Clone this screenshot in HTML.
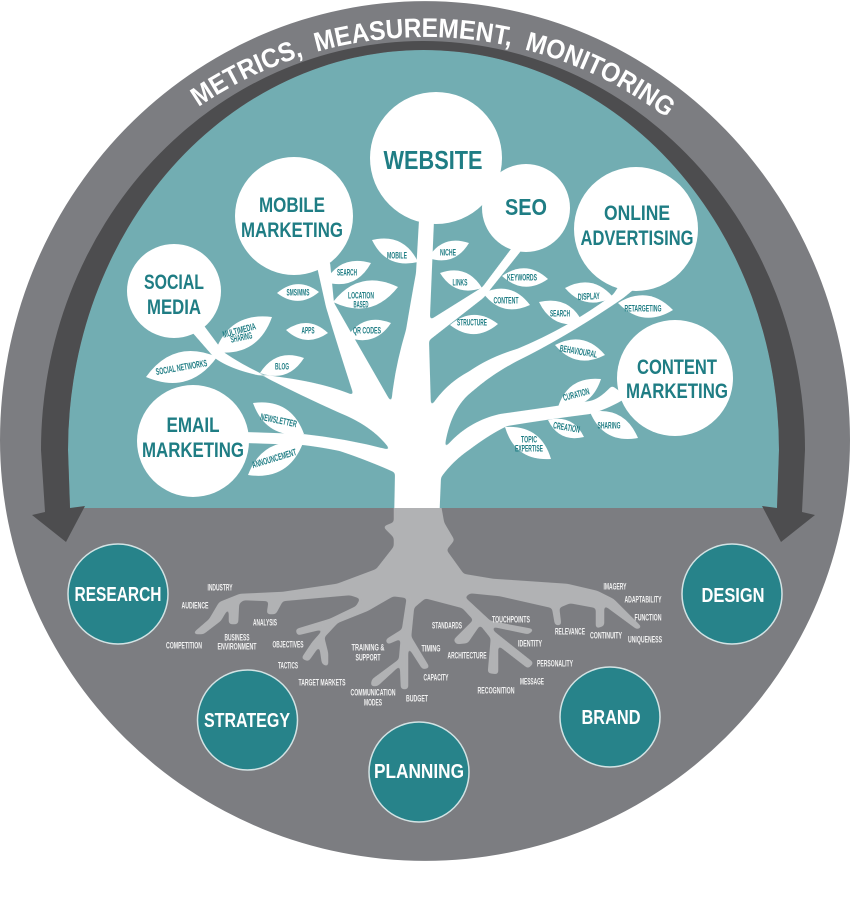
<!DOCTYPE html>
<html><head><meta charset="utf-8"><style>
html,body{margin:0;padding:0;background:#fff}
svg{display:block}
text{font-family:"Liberation Sans",sans-serif;text-anchor:middle}
.c{font-weight:bold;fill:#1f7d84;font-size:21px}
.b{font-weight:bold;fill:#fff;font-size:20px}
.l{fill:#1f7d84;font-size:9.5px;font-weight:bold}
.r{fill:#f1f1f1;font-size:9.5px;font-weight:bold}
</style></head><body>
<svg width="850" height="900" viewBox="0 0 850 900" xmlns="http://www.w3.org/2000/svg">
<defs><path id="arc" d="M24 438A401 401 0 0 1 826 438"/>
<filter id="sm" x="0" y="0" width="850" height="900" filterUnits="userSpaceOnUse" color-interpolation-filters="sRGB">
<feGaussianBlur stdDeviation="1.6"/>
<feColorMatrix type="matrix" values="1 0 0 0 0 0 1 0 0 0 0 0 1 0 0 0 0 0 8 -3.5"/>
</filter>
<clipPath id="up"><rect x="0" y="0" width="850" height="508"/></clipPath>
<clipPath id="dn"><rect x="0" y="508" width="850" height="392"/></clipPath>
</defs>
<rect width="850" height="900" fill="#fff"/>
<path d="M0 440A425 439 0 0 1 850 440A425 421 0 0 1 0 440Z" fill="#7c7d81"/>
<path d="M70 508L68 450A355.5 400 0 0 1 779 450L777 508Z" fill="#72adb2"/>
<path d="M85 506L66 542L32 515L45 512L41 450A382 409 0 0 1 805 450L802 512L815 515L781 542L762 506L777 508L779 450A355.5 400 0 0 0 68 450L70 508Z" fill="#4d4d4f"/>
<text font-size="27" font-weight="bold" fill="#fff" style="text-anchor:start"><textPath href="#arc" startOffset="389" textLength="500" lengthAdjust="spacingAndGlyphs" xml:space="preserve">METRICS,  MEASUREMENT,  MONITORING</textPath></text>

<!-- roots -->
<g clip-path="url(#dn)"><g filter="url(#sm)">
<polygon fill="#b1b2b4" stroke="#b1b2b4" stroke-width="2.5" stroke-linejoin="round" points="395,495 395,523 385,527 395,537 395,547 377,570 337,585 283,593 240,595 220,603 210,620 195,633 203,633 220,620 230,603 230,623 237,623 238,603 243,599 270,600 268,613 275,613 282,600 350,594 362,598 357,607 330,620 297,630 298,634 327,627 313,643 303,658 308,660 320,643 323,663 327,665 327,653 323,637 337,622 367,610 393,595 408,597 403,630 387,640 388,643 402,637 400,660 373,680 372,685 377,685 401,663 402,688 407,688 407,643 423,668 428,667 410,637 413,607 425,597 463,607 475,620 455,640 457,643 467,642 480,623 492,638 489,672 497,673 497,643 528,667 532,663 493,632 490,625 528,633 532,630 490,622 463,597 470,592 500,595 553,607 556,624 560,624 558,607 570,602 597,607 597,627 603,625 603,603 637,628 640,627 613,600 597,592 567,585 493,580 463,575 445,550 453,540 443,523 438,495"/>
</g></g>

<!-- tree -->
<g clip-path="url(#up)"><g fill="#fff" stroke="#fff" stroke-width="2" stroke-linejoin="round" filter="url(#sm)">
<path d="M395 525L396 472L393 452L392 406Q395 370 407 330Q412 300 417 273L420 220L433 220L428 340L430 410L443 452L440 477L438 525Z"/>
<path d="M317 262L329 262L333 303L353 338L392 406L393 452L355 396Q340 350 327 307Z"/>
<path d="M188 326L215 357Q235 372 280 378T355 397L392 430L393 452C380 432 360 420 340 412Q300 394 267 377Q245 368 223 353L200 322Z"/>
<path d="M244 433L303 435Q350 440 393 452L396 472Q370 460 340 450Q320 446 303 444L244 442Z"/>
<path d="M440 477Q452 460 470 448Q490 433 507 425Q550 418 590 413Q608 408 626 397L612 387Q600 400 590 402Q550 408 500 415Q465 423 443 452Z"/>
<path d="M430 410Q445 385 470 372Q490 358 517 350Q570 328 614 295L622 283L634 288L623 297Q575 330 527 355Q495 370 470 392Q448 410 443 452Z"/>
<path d="M427 323L483 288L513 248L522 248L483 297L428 340Z"/>
</g></g>
<g fill="#fff">
<!-- leaves -->
<path d="M325 282Q355.6 290.9 371 263Q340.4 254.1 325 282Z"/>
<path d="M277 293Q298.4 309.3 319 292Q297.6 275.7 277 293Z"/>
<path d="M333 302Q371.5 320.5 398 287Q359.5 268.5 333 302Z"/>
<path d="M286 330Q305.8 348.3 328 333Q308.2 314.7 286 330Z"/>
<path d="M347 337Q374.6 347.6 391 323Q363.4 312.4 347 337Z"/>
<path d="M215 352Q257.5 357.3 272 317Q229.5 311.7 215 352Z"/>
<path d="M146 377Q189.5 395.4 217 357Q173.5 338.6 146 377Z"/>
<path d="M260 373Q288 383.1 304 358Q276 347.9 260 373Z"/>
<path d="M253 403Q266.1 438.9 304 434Q290.9 398.1 253 403Z"/>
<path d="M248 475Q288.3 481 303 443Q262.7 437 248 475Z"/>
<path d="M372 240Q386.2 269.4 418 262Q403.8 232.6 372 240Z"/>
<path d="M428 258Q454.5 266.9 469 243Q442.5 234.1 428 258Z"/>
<path d="M440 273Q455 297.3 482 288Q467 263.7 440 273Z"/>
<path d="M502 276Q523.8 295.9 548 279Q526.2 259.1 502 276Z"/>
<path d="M483 293Q501.7 317.8 530 305Q511.3 280.2 483 293Z"/>
<path d="M450 325Q474.4 343.7 498 324Q473.6 305.3 450 325Z"/>
<path d="M565 288Q585.4 311.7 613 297Q592.6 273.3 565 288Z"/>
<path d="M618 303Q642.7 328.5 673 310Q648.3 284.5 618 303Z"/>
<path d="M539 302Q552.6 330.1 583 323Q569.4 294.9 539 302Z"/>
<path d="M555 345Q576 370 605 355Q584 330 555 345Z"/>
<path d="M558 407Q590.7 410.2 601 379Q568.3 375.8 558 407Z"/>
<path d="M548 420Q559.2 442.9 584 437Q572.8 414.1 548 420Z"/>
<path d="M590 412Q603.6 444.2 638 438Q624.4 405.8 590 412Z"/>
<path d="M505 427Q515.2 461.4 551 459Q540.8 424.6 505 427Z"/>
<!-- circles -->
<circle cx="436" cy="158" r="66"/>
<circle cx="526" cy="208" r="44"/>
<circle cx="636" cy="229" r="62"/>
<circle cx="294" cy="216" r="59"/>
<circle cx="174" cy="291" r="47"/>
<circle cx="193" cy="441" r="56"/>
<circle cx="675" cy="378" r="58"/>
</g>

<text class="c" x="433" y="169" style="font-size:26px" textLength="99" lengthAdjust="spacingAndGlyphs">WEBSITE</text>
<text class="c" x="526" y="215" style="font-size:23px" textLength="42" lengthAdjust="spacingAndGlyphs">SEO</text>
<text class="c" x="637" y="220" textLength="66" lengthAdjust="spacingAndGlyphs">ONLINE</text>
<text class="c" x="637" y="245" textLength="113" lengthAdjust="spacingAndGlyphs">ADVERTISING</text>
<text class="c" x="292" y="212" textLength="66" lengthAdjust="spacingAndGlyphs">MOBILE</text>
<text class="c" x="292" y="237" textLength="102" lengthAdjust="spacingAndGlyphs">MARKETING</text>
<text class="c" x="174" y="289" textLength="60" lengthAdjust="spacingAndGlyphs">SOCIAL</text>
<text class="c" x="174" y="314" textLength="54" lengthAdjust="spacingAndGlyphs">MEDIA</text>
<text class="c" x="193" y="432" textLength="53" lengthAdjust="spacingAndGlyphs">EMAIL</text>
<text class="c" x="193" y="457" textLength="102" lengthAdjust="spacingAndGlyphs">MARKETING</text>
<text class="c" x="677" y="374" textLength="80" lengthAdjust="spacingAndGlyphs">CONTENT</text>
<text class="c" x="677" y="398" textLength="102" lengthAdjust="spacingAndGlyphs">MARKETING</text>

<!-- leaf labels -->
<text class="l" x="347" y="275.5" textLength="20" lengthAdjust="spacingAndGlyphs">SEARCH</text>
<text class="l" x="397" y="258.5" textLength="20" lengthAdjust="spacingAndGlyphs">MOBILE</text>
<text class="l" x="298" y="295.5" textLength="23" lengthAdjust="spacingAndGlyphs">SMS/MMS</text>
<text class="l" x="361" y="298.5" textLength="26" lengthAdjust="spacingAndGlyphs">LOCATION</text>
<text class="l" x="361" y="307.5" textLength="15" lengthAdjust="spacingAndGlyphs">BASED</text>
<text class="l" x="308" y="333.5" textLength="13" lengthAdjust="spacingAndGlyphs">APPS</text>
<text class="l" x="367" y="333.5" textLength="28" lengthAdjust="spacingAndGlyphs">QR CODES</text>
<text class="l" transform="translate(240,333.5) rotate(-15)" textLength="34" lengthAdjust="spacingAndGlyphs">MULTIMEDIA</text>
<text class="l" transform="translate(242,340.5) rotate(-12)" textLength="22" lengthAdjust="spacingAndGlyphs">SHARING</text>
<text class="l" transform="translate(182,370.5) rotate(-10)" textLength="52" lengthAdjust="spacingAndGlyphs">SOCIAL NETWORKS</text>
<text class="l" x="282" y="369.5" textLength="14" lengthAdjust="spacingAndGlyphs">BLOG</text>
<text class="l" transform="translate(278,423.5) rotate(12)" textLength="37" lengthAdjust="spacingAndGlyphs">NEWSLETTER</text>
<text class="l" transform="translate(275,461.5) rotate(-17)" textLength="46" lengthAdjust="spacingAndGlyphs">ANNOUNCEMENT</text>
<text class="l" x="448" y="255.5" textLength="16" lengthAdjust="spacingAndGlyphs">NICHE</text>
<text class="l" x="460" y="285.5" textLength="15" lengthAdjust="spacingAndGlyphs">LINKS</text>
<text class="l" x="522" y="280.5" textLength="30" lengthAdjust="spacingAndGlyphs">KEYWORDS</text>
<text class="l" x="506" y="303.5" textLength="25" lengthAdjust="spacingAndGlyphs">CONTENT</text>
<text class="l" x="472" y="325.5" textLength="30" lengthAdjust="spacingAndGlyphs">STRUCTURE</text>
<text class="l" transform="translate(589,299.5) rotate(-3)" textLength="22" lengthAdjust="spacingAndGlyphs">DISPLAY</text>
<text class="l" x="643" y="311.5" textLength="37" lengthAdjust="spacingAndGlyphs">RETARGETING</text>
<text class="l" x="560" y="316.5" textLength="20" lengthAdjust="spacingAndGlyphs">SEARCH</text>
<text class="l" transform="translate(578,354.5) rotate(10)" textLength="38" lengthAdjust="spacingAndGlyphs">BEHAVIOURAL</text>
<text class="l" transform="translate(577,397.5) rotate(-15)" textLength="27" lengthAdjust="spacingAndGlyphs">CURATION</text>
<text class="l" transform="translate(566,430.5) rotate(10)" textLength="27" lengthAdjust="spacingAndGlyphs">CREATION</text>
<text class="l" x="609" y="428.5" textLength="23" lengthAdjust="spacingAndGlyphs">SHARING</text>
<text class="l" x="529" y="442.5" textLength="16" lengthAdjust="spacingAndGlyphs">TOPIC</text>
<text class="l" x="529" y="451.5" textLength="28" lengthAdjust="spacingAndGlyphs">EXPERTISE</text>

<!-- root labels -->
<text class="r" x="220" y="590.5" textLength="25" lengthAdjust="spacingAndGlyphs">INDUSTRY</text>
<text class="r" x="195" y="608.5" textLength="27" lengthAdjust="spacingAndGlyphs">AUDIENCE</text>
<text class="r" x="265" y="625.5" textLength="24" lengthAdjust="spacingAndGlyphs">ANALYSIS</text>
<text class="r" x="184" y="648.5" textLength="36" lengthAdjust="spacingAndGlyphs">COMPETITION</text>
<text class="r" x="237" y="640.5" textLength="25" lengthAdjust="spacingAndGlyphs">BUSINESS</text>
<text class="r" x="237" y="649.5" textLength="39" lengthAdjust="spacingAndGlyphs">ENVIRONMENT</text>
<text class="r" x="288" y="647.5" textLength="31" lengthAdjust="spacingAndGlyphs">OBJECTIVES</text>
<text class="r" x="288" y="668.5" textLength="20" lengthAdjust="spacingAndGlyphs">TACTICS</text>
<text class="r" x="322" y="685.5" textLength="47" lengthAdjust="spacingAndGlyphs">TARGET MARKETS</text>
<text class="r" x="368" y="650.5" textLength="33" lengthAdjust="spacingAndGlyphs">TRAINING &amp;</text>
<text class="r" x="368" y="660.5" textLength="25" lengthAdjust="spacingAndGlyphs">SUPPORT</text>
<text class="r" x="373" y="695.5" textLength="45" lengthAdjust="spacingAndGlyphs">COMMUNICATION</text>
<text class="r" x="373" y="705.5" textLength="18" lengthAdjust="spacingAndGlyphs">MODES</text>
<text class="r" x="417" y="701.5" textLength="22" lengthAdjust="spacingAndGlyphs">BUDGET</text>
<text class="r" x="431" y="651.5" textLength="19" lengthAdjust="spacingAndGlyphs">TIMING</text>
<text class="r" x="436" y="680.5" textLength="25" lengthAdjust="spacingAndGlyphs">CAPACITY</text>
<text class="r" x="447" y="628.5" textLength="30" lengthAdjust="spacingAndGlyphs">STANDARDS</text>
<text class="r" x="467" y="658.5" textLength="39" lengthAdjust="spacingAndGlyphs">ARCHITECTURE</text>
<text class="r" x="511" y="622.5" textLength="38" lengthAdjust="spacingAndGlyphs">TOUCHPOINTS</text>
<text class="r" x="530" y="646.5" textLength="24" lengthAdjust="spacingAndGlyphs">IDENTITY</text>
<text class="r" x="555" y="666.5" textLength="36" lengthAdjust="spacingAndGlyphs">PERSONALITY</text>
<text class="r" x="532" y="684.5" textLength="24" lengthAdjust="spacingAndGlyphs">MESSAGE</text>
<text class="r" x="496" y="693.5" textLength="37" lengthAdjust="spacingAndGlyphs">RECOGNITION</text>
<text class="r" x="570" y="634.5" textLength="30" lengthAdjust="spacingAndGlyphs">RELEVANCE</text>
<text class="r" x="606" y="638.5" textLength="32" lengthAdjust="spacingAndGlyphs">CONTINUITY</text>
<text class="r" x="645" y="642.5" textLength="34" lengthAdjust="spacingAndGlyphs">UNIQUENESS</text>
<text class="r" x="648" y="620.5" textLength="27" lengthAdjust="spacingAndGlyphs">FUNCTION</text>
<text class="r" x="643" y="602.5" textLength="37" lengthAdjust="spacingAndGlyphs">ADAPTABILITY</text>
<text class="r" x="615" y="589.5" textLength="23" lengthAdjust="spacingAndGlyphs">IMAGERY</text>

<!-- bottom circles -->
<g fill="#27838a" stroke="#d3e3e4" stroke-width="1.5">
<circle cx="118" cy="594" r="50"/>
<circle cx="247.5" cy="720" r="50"/>
<circle cx="419" cy="772" r="50"/>
<circle cx="610" cy="717" r="50"/>
<circle cx="732" cy="594" r="50"/>
</g>
<text class="b" x="118" y="601" textLength="87" lengthAdjust="spacingAndGlyphs">RESEARCH</text>
<text class="b" x="247" y="727" textLength="86" lengthAdjust="spacingAndGlyphs">STRATEGY</text>
<text class="b" x="419" y="778" textLength="90" lengthAdjust="spacingAndGlyphs">PLANNING</text>
<text class="b" x="611" y="724" textLength="59" lengthAdjust="spacingAndGlyphs">BRAND</text>
<text class="b" x="733" y="602" textLength="63" lengthAdjust="spacingAndGlyphs">DESIGN</text>
</svg>
</body></html>
